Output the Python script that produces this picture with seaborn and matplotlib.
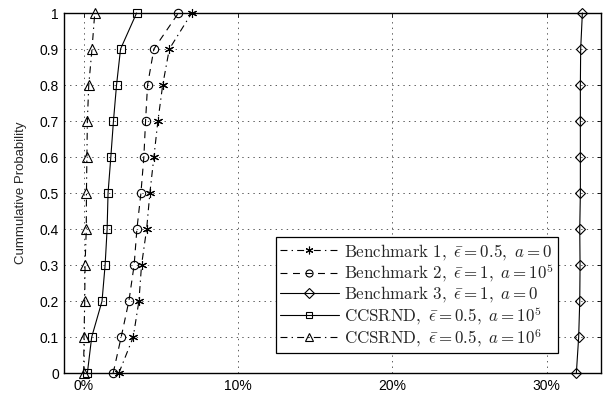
import numpy as np
import pandas as pd
import matplotlib
matplotlib.use("Agg")
import matplotlib.pyplot as plt
import seaborn as sns

# cumulative probability levels (y axis)
prob = [0, 0.1, 0.2, 0.3, 0.4, 0.5, 0.6, 0.7, 0.8, 0.9, 1.0]

# values in percent
bench1 = [2.28, 3.21, 3.58, 3.75, 4.08, 4.29, 4.55, 4.81, 5.12, 5.55, 7.0]
bench2 = [1.91, 2.43, 2.93, 3.27, 3.45, 3.71, 3.90, 4.01, 4.14, 4.55, 6.14]
bench3 = [31.92, 32.07, 32.14, 32.16, 32.14, 32.18, 32.18, 32.18, 32.18, 32.2, 32.31]
ccs_1e5 = [0.24, 0.52, 1.19, 1.39, 1.52, 1.58, 1.76, 1.93, 2.13, 2.39, 3.43]
ccs_1e6 = [0.0, 0.02, 0.07, 0.09, 0.17, 0.18, 0.21, 0.24, 0.33, 0.54, 0.72]

labels = [r"$\mathrm{Benchmark\ 1,\ }\bar{\epsilon}=0.5\mathrm{,\ }a=0$",
          r"$\mathrm{Benchmark\ 2,\ }\bar{\epsilon}=1\mathrm{,\ }a=10^5$",
          r"$\mathrm{Benchmark\ 3,\ }\bar{\epsilon}=1\mathrm{,\ }a=0$",
          r"$\mathrm{CCSRND,\ }\bar{\epsilon}=0.5\mathrm{,\ }a=10^5$",
          r"$\mathrm{CCSRND,\ }\bar{\epsilon}=0.5\mathrm{,\ }a=10^6$"]
series = [bench1, bench2, bench3, ccs_1e5, ccs_1e6]

dashdot = (0, (5, 3, 1, 3))
dashed = (0, (5, 4))
styles = [(dashdot, (6, 2, 0), 6.5), (dashed, "o", 6), ("-", "D", 5.5),
          ("-", "s", 5.5), (dashdot, "^", 6.5)]

xticks = [0, 10, 20, 30]
xticklabels = ["0%", "10%", "20%", "30%"]
yticks = prob
yticklabels = ["0", "0.1", "0.2", "0.3", "0.4", "0.5", "0.6", "0.7", "0.8", "0.9", "1"]

sns.set_style("white")
plt.rcParams["font.family"] = ["Liberation Sans", "DejaVu Sans"]
plt.rcParams["mathtext.fontset"] = "cm"
plt.rcParams["lines.scale_dashes"] = False

fig = plt.figure(figsize=(6.13, 3.94), dpi=100)
ax = fig.add_axes([0.105, 0.053, 0.875, 0.914])

for vals, lab, (ls, mk, ms) in zip(series, labels, styles):
    df = pd.DataFrame({"x": vals, "y": prob})
    sns.lineplot(data=df, x="x", y="y", ax=ax, sort=False, estimator=None,
                 color="k", linestyle=ls, linewidth=0.8, marker=mk,
                 markersize=ms, markerfacecolor="none", markeredgecolor="k",
                 markeredgewidth=0.8, label=lab, clip_on=False, zorder=3)

ax.set_xlim(-1.25, 33.5)
ax.set_ylim(0, 1)
ax.set_xticks(xticks)
ax.set_xticklabels(xticklabels)
ax.set_yticks(yticks)
ax.set_yticklabels(yticklabels)
ax.set_xlabel("")
ax.set_ylabel("Cummulative Probability", fontsize=9.5, labelpad=9)
ax.tick_params(direction="in", length=3, width=0.6, top=True, right=True,
               labelsize=10, pad=4, colors="k")
ax.grid(True, linestyle=(0, (1, 3)), color="0.25", linewidth=0.6)
for s in ax.spines.values():
    s.set_color("k")
    s.set_linewidth(1.0)

leg = ax.legend(loc="lower right", bbox_to_anchor=(0.921, 0.056), fontsize=12.2,
                frameon=True, fancybox=False, edgecolor="k", framealpha=1,
                handlelength=3.5, handletextpad=0.3, labelspacing=0.0,
                borderpad=0.25, borderaxespad=0, markerscale=0.85)
leg.get_frame().set_linewidth(0.9)

fig.savefig("out.png", dpi=100)
